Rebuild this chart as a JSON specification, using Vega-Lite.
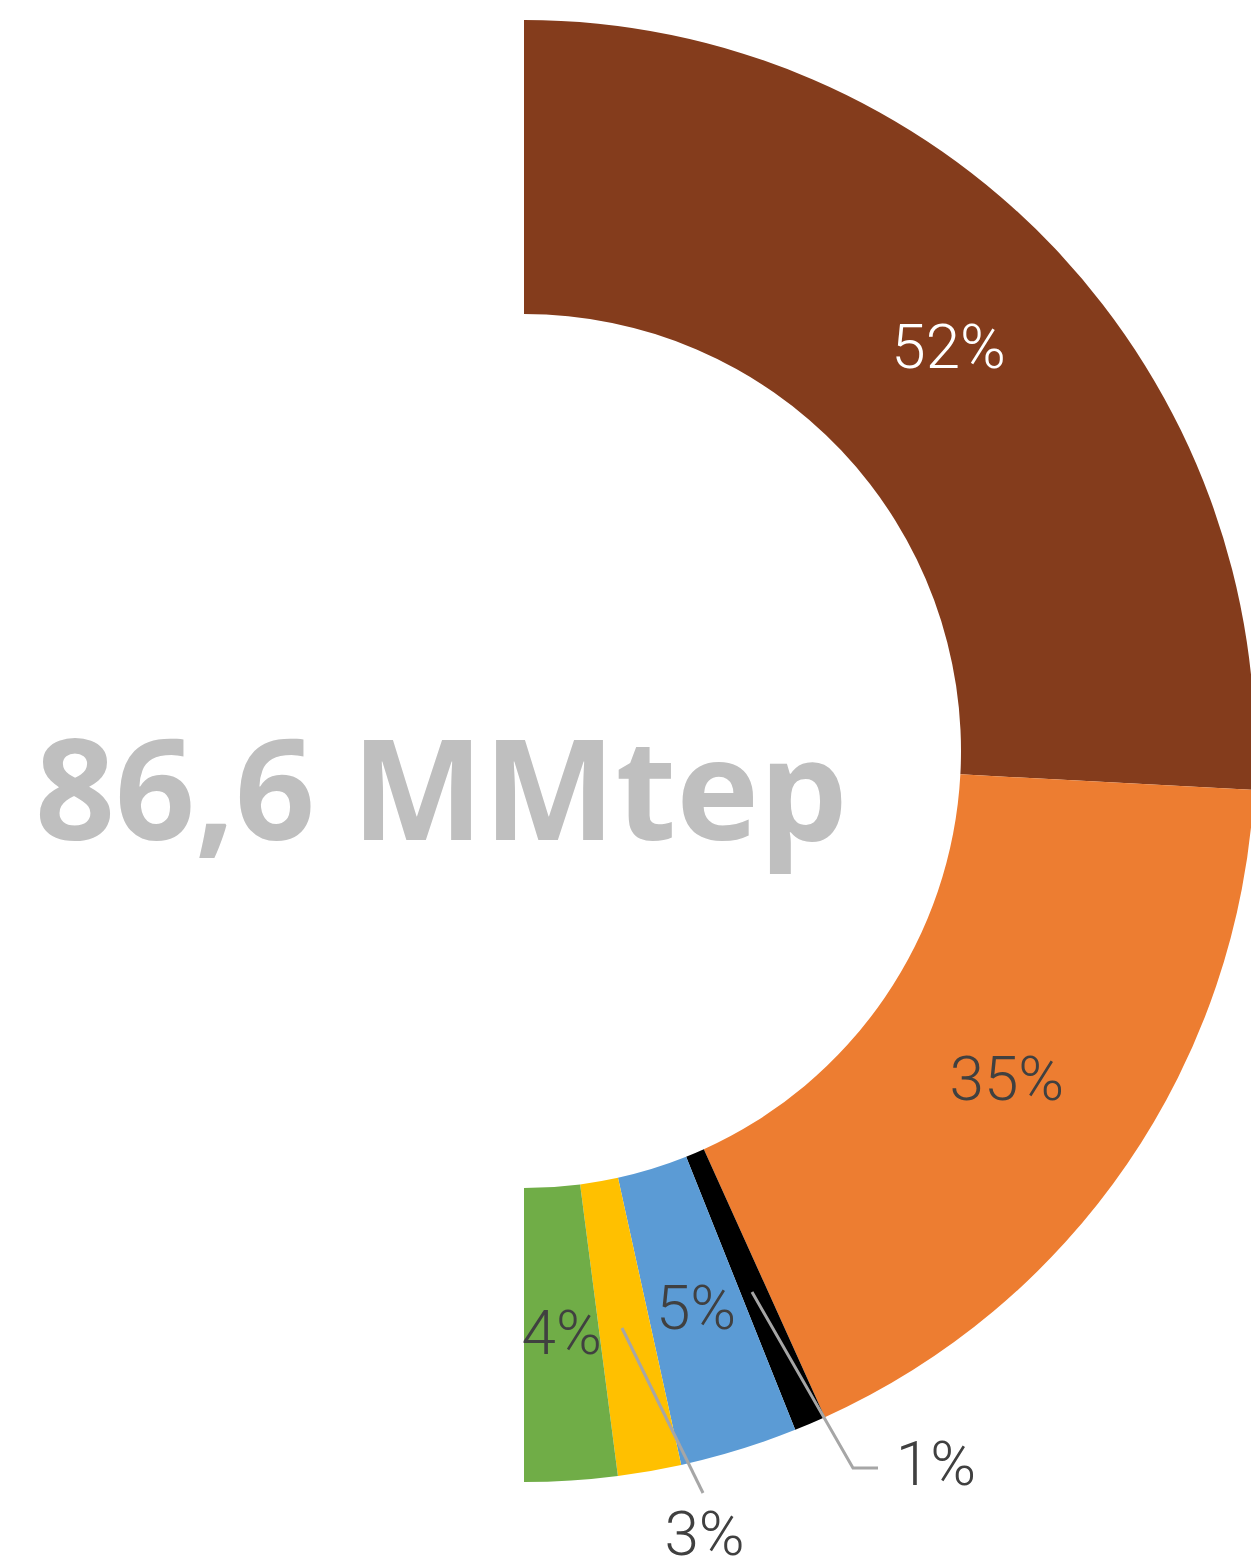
{
  "$schema": "https://vega.github.io/schema/vega-lite/v6.json",
  "width": 1048,
  "height": 1502,
  "padding": 0,
  "autosize": {"type": "pad"},
  "background": "white",
  "config": {"view": {"stroke": null}},
  "datasets": {
    "slices": [
      {"source": "A", "label": "52%", "value": 51.7, "order": 1},
      {"source": "B", "label": "35%", "value": 34.8, "order": 2},
      {"source": "C", "label": "1%", "value": 1.4, "order": 3},
      {"source": "D", "label": "5%", "value": 5.2, "order": 4},
      {"source": "E", "label": "3%", "value": 2.8, "order": 5},
      {"source": "F", "label": "4%", "value": 4.1, "order": 6}
    ],
    "leaders": [
      {"leader": "3%", "i": 0, "x": 98, "y": 577},
      {"leader": "3%", "i": 1, "x": 179, "y": 742},
      {"leader": "1%", "i": 0, "x": 228, "y": 541},
      {"leader": "1%", "i": 1, "x": 329, "y": 717},
      {"leader": "1%", "i": 2, "x": 354, "y": 717}
    ]
  },
  "layer": [
    {
      "data": {"name": "slices"},
      "mark": {"type": "arc", "innerRadius": 437, "outerRadius": 731, "strokeWidth": 0},
      "encoding": {
        "theta": {"field": "value", "type": "quantitative", "stack": true, "scale": {"domain": [0, 100], "range": [0, 3.14159265]}},
        "order": {"field": "order", "type": "quantitative"},
        "color": {"field": "source", "type": "nominal", "legend": null,
          "scale": {"domain": ["A", "B", "C", "D", "E", "F"], "range": ["#843C1C", "#ED7D31", "#000000", "#5B9BD5", "#FFC000", "#70AD47"]}}
      }
    },
    {
      "data": {"name": "slices"},
      "mark": {"type": "text", "radius": 585, "font": "Roboto", "fontWeight": 300, "fontSize": 62, "align": "center", "baseline": "middle"},
      "encoding": {
        "theta": {"field": "value", "type": "quantitative", "stack": true},
        "order": {"field": "order", "type": "quantitative"},
        "text": {"field": "label", "condition": {"test": "datum.order === 3 || datum.order === 5", "value": ""}},
        "color": {"condition": {"test": "datum.order === 1", "value": "#FFFFFF"}, "value": "#404040"}
      }
    },
    {
      "data": {"name": "leaders"},
      "mark": {"type": "line", "color": "#A6A6A6", "strokeWidth": 3},
      "encoding": {
        "x": {"field": "x", "type": "quantitative", "axis": null, "scale": {"domain": [-524, 524], "nice": false, "zero": false}},
        "y": {"field": "y", "type": "quantitative", "axis": null, "scale": {"domain": [-751, 751], "nice": false, "zero": false, "reverse": true}},
        "detail": {"field": "leader", "type": "nominal"},
        "order": {"field": "i", "type": "quantitative"}
      }
    },
    {
      "data": {"name": "slices"},
      "mark": {"type": "text", "radius": 585, "dx": 80, "dy": 209, "font": "Roboto", "fontWeight": 300, "fontSize": 62, "align": "center", "baseline": "middle", "color": "#404040"},
      "encoding": {
        "theta": {"field": "value", "type": "quantitative", "stack": true},
        "order": {"field": "order", "type": "quantitative"},
        "text": {"field": "label", "condition": {"test": "datum.order !== 5", "value": ""}}
      }
    },
    {
      "data": {"name": "slices"},
      "mark": {"type": "text", "radius": 585, "dx": 183, "dy": 177, "font": "Roboto", "fontWeight": 300, "fontSize": 62, "align": "center", "baseline": "middle", "color": "#404040"},
      "encoding": {
        "theta": {"field": "value", "type": "quantitative", "stack": true},
        "order": {"field": "order", "type": "quantitative"},
        "text": {"field": "label", "condition": {"test": "datum.order !== 3", "value": ""}}
      }
    },
    {
      "data": {"values": [{"total": "86,6 MMtep"}]},
      "mark": {"type": "text", "font": "Open Sans", "fontWeight": "bold", "fontSize": 140, "align": "left", "baseline": "alphabetic", "dx": -489, "dy": 89, "color": "#BFBFBF"},
      "encoding": {"text": {"field": "total", "type": "nominal"}}
    }
  ]
}
